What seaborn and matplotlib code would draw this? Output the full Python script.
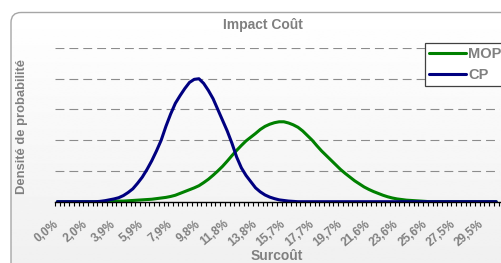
import numpy as np
import pandas as pd
import matplotlib
matplotlib.use("Agg")
import matplotlib.pyplot as plt
from matplotlib.patches import FancyBboxPatch
import seaborn as sns

# surcharge categories (94 classes, labelled every 6th class)
n_classes = 94
tick_labels = ["0,0%", "2,0%", "3,9%", "5,9%", "7,9%", "9,8%", "11,8%", "13,8%",
               "15,7%", "17,7%", "19,7%", "21,6%", "23,6%", "25,6%", "27,5%", "29,5%"]
label_step = 6

# probability density (arbitrary units, gridline = 1)
cp_density = [0, 0, 0, 0, 0, 0, 0, 0, 0, 0.01,
              0.03, 0.06, 0.09, 0.13, 0.2, 0.3, 0.42, 0.6, 0.8, 1.05,
              1.33, 1.65, 2.0, 2.45, 2.85, 3.2, 3.45, 3.68, 3.88, 3.98,
              4.0, 3.85, 3.62, 3.35, 3.0, 2.65, 2.3, 1.9, 1.45, 1.1,
              0.85, 0.65, 0.45, 0.32, 0.22, 0.15, 0.1, 0.06, 0.04, 0.02,
              0.01] + [0] * 43

mop_density = [0, 0, 0, 0, 0, 0, 0, 0, 0, 0,
               0.01, 0.01, 0.01, 0.02, 0.02, 0.03, 0.04, 0.05, 0.06, 0.07,
               0.08, 0.1, 0.12, 0.14, 0.17, 0.21, 0.27, 0.33, 0.39, 0.45,
               0.52, 0.62, 0.73, 0.86, 1.0, 1.15, 1.32, 1.5, 1.67, 1.83,
               1.98, 2.1, 2.22, 2.35, 2.45, 2.52, 2.57, 2.6, 2.6, 2.56,
               2.5, 2.42, 2.3, 2.15, 2.0, 1.82, 1.65, 1.5, 1.35, 1.2,
               1.05, 0.92, 0.8, 0.68, 0.58, 0.48, 0.4, 0.33, 0.27, 0.21,
               0.16, 0.12, 0.09, 0.07, 0.05, 0.04, 0.03, 0.02, 0.01] + [0] * 15

series_names = ["MOP", "CP"]
colors = {"MOP": "#008000", "CP": "#000080"}

df = pd.DataFrame({
    "classe": list(range(n_classes)) * 2,
    "densite": mop_density + cp_density,
    "serie": ["MOP"] * n_classes + ["CP"] * n_classes,
})

sns.set_style("white")
plt.rcParams["font.family"] = ["Liberation Sans", "DejaVu Sans"]
plt.rcParams["font.weight"] = "bold"

W, H = 502, 263
fig = plt.figure(figsize=(W / 100, H / 100), dpi=100)

# chart area background: rounded box with a white -> light gray gradient
bg = fig.add_axes([0, 0, 1, 1], zorder=-1)
bg.set_xlim(0, W)
bg.set_ylim(H, 0)
bg.axis("off")
box = FancyBboxPatch((11, 12.5), 540, 300, boxstyle="round,pad=0,rounding_size=10",
                     facecolor="none", edgecolor="#a6a6a6", lw=1.0)
bg.add_patch(box)
grad = np.linspace(1.0, 0.93, 256).reshape(-1, 1)
im = bg.imshow(grad, cmap="gray", vmin=0, vmax=1, aspect="auto",
               extent=[11, 551, 312.5, 12.5], interpolation="bilinear")
im.set_clip_path(box)

# plot area
left, right, top, bottom = 55, 500, 48, 201.7
ax = fig.add_axes([left / W, 1 - bottom / H, (right - left) / W, (bottom - top) / H])
ax.patch.set_alpha(0)

sns.lineplot(data=df, x="classe", y="densite", hue="serie", hue_order=series_names,
             palette=colors, linewidth=2.2, ax=ax)

ax.set_xlim(-0.4, n_classes - 0.2)
ax.set_ylim(0, 5)
ax.set_yticks([1, 2, 3, 4, 5])
ax.yaxis.grid(True, color="#8c8c8c", linestyle=(0, (8, 4.5)), linewidth=0.8)
ax.tick_params(axis="y", left=False, labelleft=False)

ax.set_xticks(np.arange(0, len(tick_labels) * label_step, label_step))
ax.set_xticklabels(tick_labels, rotation=40, ha="right", va="center",
                   rotation_mode="anchor", color="#808080", fontsize=8.5, fontweight="bold")
ax.set_xticks(np.arange(0, n_classes + 1) - 0.5, minor=True)
ax.tick_params(axis="x", which="major", length=0, pad=15)
ax.tick_params(axis="x", which="minor", length=3, width=0.8, color="black", direction="out",
               bottom=True)
for side in ["top", "right", "left"]:
    ax.spines[side].set_visible(False)
ax.spines["bottom"].set_color("black")
ax.spines["bottom"].set_linewidth(1.0)

ax.set_xlabel("")
ax.set_ylabel("")
fig.text(263 / W, 1 - 25 / H, "Impact Coût", ha="center", va="center",
         color="#808080", fontsize=10, fontweight="bold")
fig.text(277 / W, 1 - 256 / H, "Surcoût", ha="center", va="center",
         color="#808080", fontsize=10, fontweight="bold")
fig.text(22 / W, 1 - 126 / H, "Densité de probabilité", ha="center", va="center",
         rotation=90, color="#808080", fontsize=9.4, fontweight="bold")

leg = ax.legend(loc="upper left", bbox_to_anchor=(425 / W, 1 - 43 / H),
                bbox_transform=fig.transFigure, frameon=True, fancybox=False,
                handlelength=2.5, handletextpad=0.15, labelspacing=0.45,
                borderpad=0.3, borderaxespad=0, fontsize=10.5)
leg.get_frame().set_edgecolor("#404040")
leg.get_frame().set_linewidth(0.9)
leg.get_frame().set_facecolor("white")
leg.get_frame().set_alpha(1)
for t in leg.get_texts():
    t.set_color("#808080")
    t.set_fontweight("bold")
for line in leg.get_lines():
    line.set_linewidth(2.2)

fig.savefig("out.png", dpi=100)
